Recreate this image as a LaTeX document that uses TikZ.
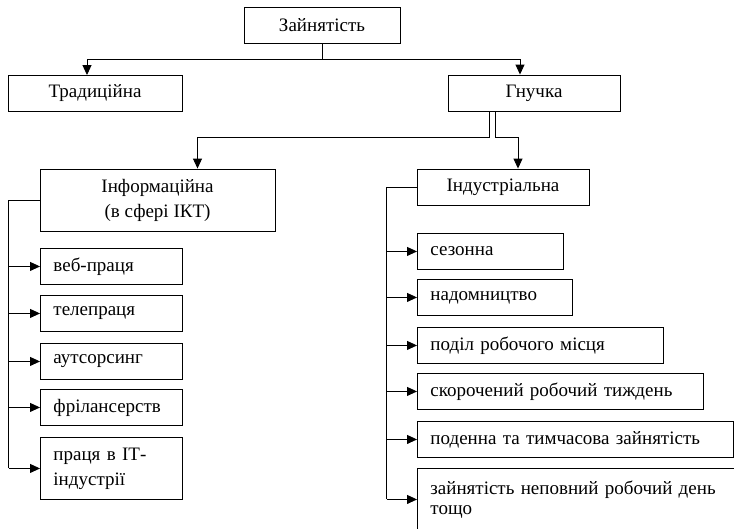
\documentclass[tikz,border=0pt]{standalone}
\usepackage{fontspec}
\setmainfont{Liberation Serif}
\usetikzlibrary{arrows.meta}
\tikzstyle{block} = [draw, line width=0.9pt, minimum height=36pt, align=center]
\tikzstyle{item} = [draw, line width=0.9pt, anchor=north west, minimum height=36pt, inner xsep=13pt, align=left]
\tikzstyle{line} = [line width=0.9pt]
\tikzstyle{arrow} = [line width=0.9pt, -{Triangle[length=10pt,width=9pt]}]

\begin{document}
\begin{tikzpicture}[x=1pt, y=-1pt, font=\fontsize{19}{25}\selectfont]
\useasboundingbox (0,0) rectangle (734,528);
% Top level
\node[block, minimum width=156pt] (zayn) at (322,25.5) {Зайнятість};
\node[block, minimum width=174pt] (trad) at (95,93.5) {Традиційна};
\node[block, minimum width=172pt] (gnuch) at (534,93) {Гнучка};

% Second level
\node[block, minimum width=235pt, minimum height=62pt] (inform) at (157.5,200) {Інформаційна\\(в сфері ІКТ)};
\node[block, minimum width=172pt] (indus) at (503,187) {Індустріальна};

% Informational kinds
\node[item, text width=116pt] (veb) at (40,248) {веб-праця};
\node[item, text width=116pt] (tele) at (40,295) {телепраця};
\node[item, text width=116pt] (auts) at (40,343) {аутсорсинг};
\node[item, text width=116pt] (fril) at (40,389) {фрілансерств};
\node[item, text width=116pt, minimum height=62pt] (it) at (40,437) {праця в ІТ-\\індустрії};

% Industrial kinds
\node[item, text width=120pt] (sez) at (417,233) {сезонна};
\node[item, text width=129pt] (nadom) at (417,279) {надомництво};
\node[item, text width=220pt] (podil) at (417,327) {поділ робочого місця};
\node[item, text width=260pt] (skor) at (417,373) {скорочений робочий тиждень};
\node[item, text width=290pt] (poden) at (417,421) {поденна та тимчасова зайнятість};
\node[item, text width=306pt, minimum height=62pt, font=\fontsize{19}{20}\selectfont] (nepov) at (417,468) {зайнятість неповний робочий день\\тощо};

% Arrows from the top
\coordinate (split) at (322,59);
\draw[line] (zayn.south) -- (split);
\draw[arrow] (split) -| ([xshift=-8pt]trad.north);
\draw[arrow] (split) -| ([xshift=-14pt]gnuch.north);
\draw[arrow] ([xshift=-45pt]gnuch.south) -- ++(0,26) -| ([xshift=40pt]inform.north);
\draw[arrow] ([xshift=-39pt]gnuch.south) -- ++(0,26) -| ([xshift=15pt]indus.north);

% Left bus
\draw[line] (inform.west) -- ++(-31,0) coordinate (lbus);
\draw[line] (lbus) -- (lbus |- it.west);
\foreach \n in {veb,tele,auts,fril,it}
  \draw[arrow] (lbus |- \n.west) -- (\n.west);

% Right bus
\draw[line] (indus.west) -- ++(-30,0) coordinate (rbus);
\draw[line] (rbus) -- (rbus |- nepov.west);
\foreach \n in {sez,nadom,podil,skor,poden,nepov}
  \draw[arrow] (rbus |- \n.west) -- (\n.west);
\end{tikzpicture}
\end{document}
